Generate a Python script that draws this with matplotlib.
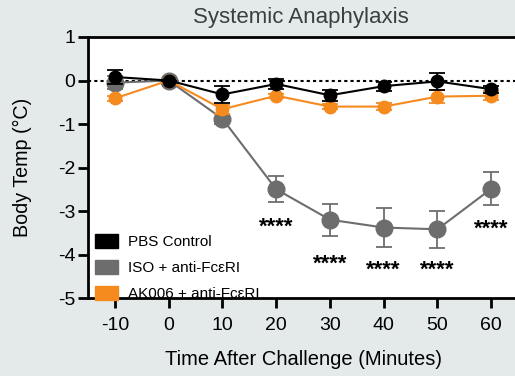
import matplotlib
matplotlib.use("Agg")
from matplotlib import pyplot as plt
from matplotlib.patches import Patch

# data
time = [-10, 0, 10, 20, 30, 40, 50, 60]

pbs_mean = [0.08, 0.0, -0.32, -0.08, -0.34, -0.13, -0.02, -0.20]
pbs_err = [0.15, 0.0, 0.20, 0.12, 0.13, 0.10, 0.19, 0.08]

iso_mean = [-0.05, 0.0, -0.88, -2.50, -3.20, -3.38, -3.42, -2.49]
iso_err = [0.15, 0.0, 0.12, 0.30, 0.37, 0.45, 0.42, 0.38]

ak_mean = [-0.41, 0.0, -0.66, -0.35, -0.60, -0.60, -0.37, -0.35]
ak_err = [0.05, 0.0, 0.10, 0.05, 0.05, 0.08, 0.15, 0.10]

star_x = [20, 30, 40, 50, 60]
star_y = [-3.38, -4.23, -4.37, -4.37, -3.42]

labels = ["PBS Control", "ISO + anti-Fc\u03b5RI", "AK006 + anti-Fc\u03b5RI"]
colors = ["#000000", "#6d6d6d", "#f58a1f"]

bg = "#e4e9ea"
plt.rcParams['font.family'] = ['Liberation Sans', 'DejaVu Sans']
plt.rcParams['axes.unicode_minus'] = False

fig = plt.figure(figsize=(5.15, 3.76), dpi=100, facecolor=bg)
ax = fig.add_axes([0.171, 0.2074, 0.835, 0.6942])
ax.set_facecolor("white")

ax.axhline(0, color="black", linestyle=(0, (1.5, 1.5)), linewidth=1.5, zorder=1)

series = [(pbs_mean, pbs_err, 9, 3), (iso_mean, iso_err, 12, 2), (ak_mean, ak_err, 9, 2.5)]
order = [1, 2, 0]
for i in order:
    m, e, ms, z = series[i]
    ax.errorbar(time, m, yerr=e, color=colors[i], marker="o", markersize=ms,
                linewidth=1.5, elinewidth=1.3, capsize=6, capthick=1.3, zorder=z + 2)

for x, y in zip(star_x, star_y):
    ax.text(x, y, "****", ha="center", va="center", fontsize=16, fontweight="bold")

ax.set_xlim(-15, 65)
ax.set_ylim(-5, 1)
ax.set_xticks(time)
ax.set_yticks([1, 0, -1, -2, -3, -4, -5])
ax.tick_params(axis="both", labelsize=14, width=2, length=7, color="black")
ax.tick_params(axis="x", pad=7)
ax.tick_params(axis="y", pad=2)
for s in ["left", "bottom", "top"]:
    ax.spines[s].set_linewidth(2)
ax.spines["right"].set_visible(False)

ax.set_xlabel("Time After Challenge (Minutes)", fontsize=14.5, labelpad=11)
ax.set_ylabel("Body Temp (\u00b0C)", fontsize=14.2, labelpad=19)
fig.text(0.585, 0.953, "Systemic Anaphylaxis", ha="center", va="center",
         fontsize=16, color="#3a3f40")

handles = [Patch(facecolor=c, edgecolor=c) for c in colors]
ax.legend(handles, labels, loc="lower left", bbox_to_anchor=(-0.015, -0.066),
          frameon=False, fontsize=11, handlelength=1.45, handleheight=1.0,
          labelspacing=0.72, handletextpad=0.7)

fig.savefig("out.png", dpi=100, facecolor=bg)
